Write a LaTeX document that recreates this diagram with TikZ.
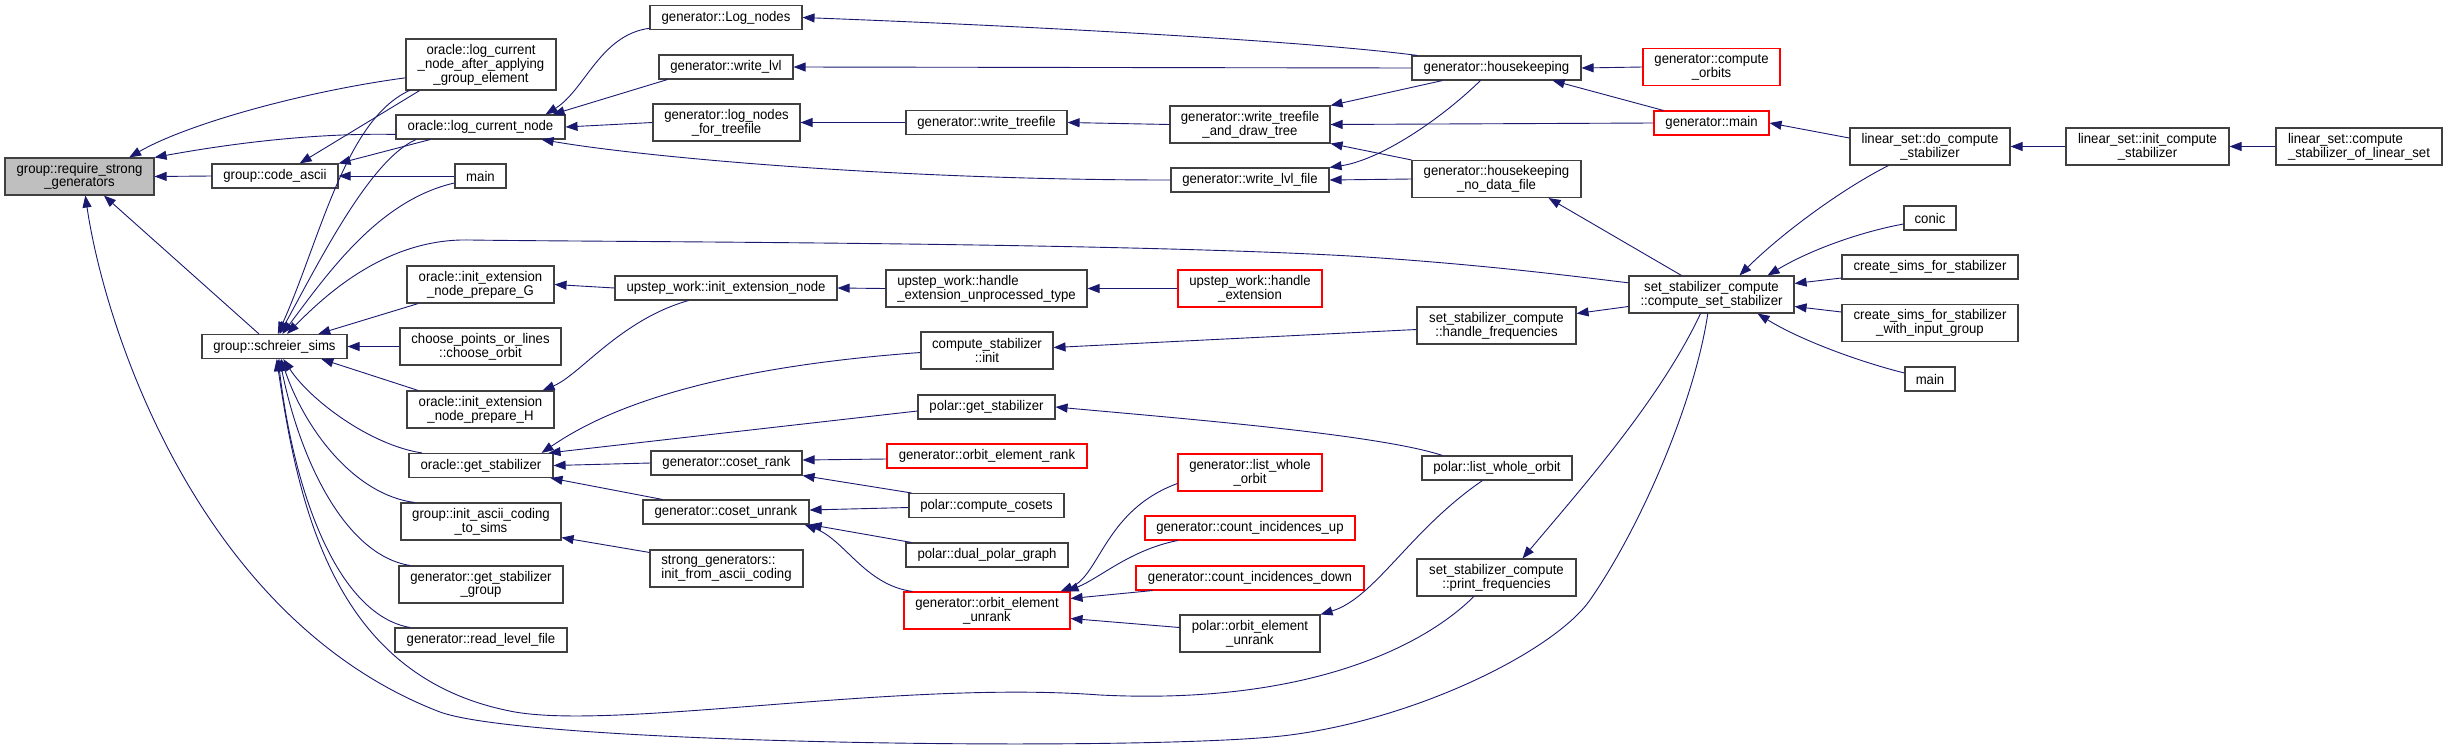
\documentclass[tikz,border=0pt]{standalone}
\usepackage{fontspec}
\setmainfont{Liberation Sans}[FakeStretch=0.94]
\usepackage{tikz}
\usetikzlibrary{arrows.meta}
\definecolor{edgeblue}{HTML}{191970}
\definecolor{boxgray}{HTML}{BFBFBF}
\tikzset{
  fn/.style={draw=black!75, line width=1.1pt, fill=white, minimum height=24pt, inner xsep=3pt, inner ysep=2pt, align=center, font=\fontsize{14pt}{12.7pt}\selectfont},
  fnred/.style={fn, draw=red},
  two/.style={minimum height=37pt},
  call/.style={<-, draw=edgeblue, line width=0.9pt}
}

\begin{document}
\begin{tikzpicture}[x=1pt, y=-1pt, >={Triangle[length=12pt,width=9pt]}]
	\useasboundingbox (0,0) rectangle (2447,747);
	\node[fn, fill=boxgray, two, minimum width=149pt] (rsg) at (79.5,176.5) {group::require\_strong\\\_generators};
	\node[fn, minimum width=150pt, minimum height=51pt] (lcnaa) at (481,64.5) {oracle::log\_current\\\_node\_after\_applying\\\_group\_element};
	\node[fn, minimum width=169pt] (lcn) at (480.5,127) {oracle::log\_current\_node};
	\node[fn, minimum width=126pt] (codeascii) at (275,176) {group::code\_ascii};
	\node[fn, minimum width=51pt] (mainA) at (480.5,176) {main};
	\node[fn, two, minimum width=147pt] (prepG) at (480.5,284.5) {oracle::init\_extension\\\_node\_prepare\_G};
	\node[fn, minimum width=145pt] (sims) at (274.5,346.5) {group::schreier\_sims};
	\node[fn, two, minimum width=161pt] (chooseorbit) at (480.5,346.5) {choose\_points\_or\_lines\\::choose\_orbit};
	\node[fn, two, minimum width=147pt] (prepH) at (480.5,409.5) {oracle::init\_extension\\\_node\_prepare\_H};
	\node[fn, minimum width=144pt] (ogetstab) at (481,465.5) {oracle::get\_stabilizer};
	\node[fn, two, minimum width=160pt] (initascii) at (481,521.5) {group::init\_ascii\_coding\\\_to\_sims};
	\node[fn, two, minimum width=164pt] (getstabgroup) at (481,584.5) {generator::get\_stabilizer\\\_group};
	\node[fn, minimum width=172pt] (readlevel) at (481,640) {generator::read\_level\_file};

	\node[fn, minimum width=152pt] (lognodes) at (726,17.5) {generator::Log\_nodes};
	\node[fn, minimum width=134pt] (writelvl) at (726,67) {generator::write\_lvl};
	\node[fn, two, minimum width=147pt] (lntree) at (726.5,122.5) {generator::log\_nodes\\\_for\_treefile};
	\node[fn, minimum width=222pt] (uwinit) at (726,288) {upstep\_work::init\_extension\_node};
	\node[fn, minimum width=151pt] (cosetrank) at (726.5,463) {generator::coset\_rank};
	\node[fn, minimum width=166pt] (cosetunrank) at (726,512) {generator::coset\_unrank};
	\node[fn, two, align=left, minimum width=153pt] (sgascii) at (726.5,568.5) {strong\_generators::\\init\_from\_ascii\_coding};

	\node[fn, minimum width=161pt] (writetree) at (986.5,122.5) {generator::write\_treefile};
	\node[fn, two, align=left, minimum width=201pt] (uwunproc) at (986.5,288.5) {upstep\_work::handle\\\_extension\_unprocessed\_type};
	\node[fn, two, minimum width=132pt] (csinit) at (987,350.5) {compute\_stabilizer\\::init};
	\node[fn, minimum width=137pt] (pgetstab) at (986.5,407) {polar::get\_stabilizer};
	\node[fnred, minimum width=200pt] (oerank) at (987,456) {generator::orbit\_element\_rank};
	\node[fn, minimum width=155pt] (computecosets) at (986.5,505.5) {polar::compute\_cosets};
	\node[fn, minimum width=162pt] (dualpolar) at (987,555) {polar::dual\_polar\_graph};
	\node[fnred, two, minimum width=166pt] (oeunrank) at (987,610.5) {generator::orbit\_element\\\_unrank};

	\node[fn, two, minimum width=160pt] (wtdraw) at (1250,124.5) {generator::write\_treefile\\\_and\_draw\_tree};
	\node[fn, minimum width=158pt] (writelvlfile) at (1250,180) {generator::write\_lvl\_file};
	\node[fnred, two, minimum width=144pt] (uwhandle) at (1250,288.5) {upstep\_work::handle\\\_extension};
	\node[fnred, two, minimum width=144pt] (listwhole) at (1250,472.5) {generator::list\_whole\\\_orbit};
	\node[fnred, minimum width=210pt] (ciup) at (1250,528) {generator::count\_incidences\_up};
	\node[fnred, minimum width=228pt] (cidown) at (1250,578) {generator::count\_incidences\_down};
	\node[fn, two, minimum width=140pt] (poeunrank) at (1250,633.5) {polar::orbit\_element\\\_unrank};

	\node[fn, minimum width=169pt] (housekeeping) at (1496.5,68) {generator::housekeeping};
	\node[fn, two, minimum width=169pt] (hknodata) at (1496.5,179) {generator::housekeeping\\\_no\_data\_file};
	\node[fn, two, minimum width=159pt] (handlefreq) at (1496.5,325.5) {set\_stabilizer\_compute\\::handle\_frequencies};
	\node[fn, minimum width=150pt] (plistwhole) at (1497,468) {polar::list\_whole\_orbit};
	\node[fn, two, minimum width=159pt] (printfreq) at (1496.5,577.5) {set\_stabilizer\_compute\\::print\_frequencies};

	\node[fnred, two, minimum width=137pt] (computeorbits) at (1711.5,67) {generator::compute\\\_orbits};
	\node[fnred, minimum width=115pt] (genmain) at (1711.5,123) {generator::main};
	\node[fn, two, minimum width=165pt] (css) at (1711.5,294.5) {set\_stabilizer\_compute\\::compute\_set\_stabilizer};

	\node[fn, two, minimum width=160pt] (docompute) at (1930,146.5) {linear\_set::do\_compute\\\_stabilizer};
	\node[fn, minimum width=52pt] (conic) at (1930,218) {conic};
	\node[fn, minimum width=176pt] (csfs) at (1930,267) {create\_sims\_for\_stabilizer};
	\node[fn, two, minimum width=176pt] (csfswig) at (1930,323) {create\_sims\_for\_stabilizer\\\_with\_input\_group};
	\node[fn, minimum width=50pt] (mainB) at (1930,379) {main};
	\node[fn, two, minimum width=163pt] (initcompute) at (2147.5,146.5) {linear\_set::init\_compute\\\_stabilizer};
	\node[fn, two, align=left, minimum width=166pt] (computeoflinear) at (2359,146.5) {linear\_set::compute\\\_stabilizer\_of\_linear\_set};

	\draw[call] (rsg.21) .. controls (185,125) and (300,92) .. (lcnaa.190);
	\draw[call] (rsg.north east) .. controls (250,140) and (330,133) .. (lcn.185);
	\draw[call] (rsg.east) -- (codeascii.west);
	\draw[call] (rsg.322) -- (sims.141);
	\draw[call] (rsg.287) .. controls (105,330) and (200,620) .. (440,712) .. controls (530,745) and (1160,752) .. (1290,735) .. controls (1420,718) and (1555,650) .. (1590,600) .. controls (1642,525) and (1695,400) .. (css.259);
	\draw[call] (codeascii.27) -- (lcnaa.203);
	\draw[call] (codeascii.north east) -- (lcn.194);
	\draw[call] (codeascii.east) -- (mainA.west);
	\draw[call] (sims.75) .. controls (320,240) and (345,120) .. (lcnaa.200);
	\draw[call] (sims.68) .. controls (320,260) and (370,160) .. (lcn.191);
	\draw[call] (sims.58) .. controls (330,270) and (380,200) .. (mainA.195);
	\draw[call] (sims.45) .. controls (330,290) and (390,238) .. (470,240) .. controls (600,242) and (1100,242) .. (1350,256) .. controls (1480,264) and (1580,277) .. (css.172);
	\draw[call] (sims.16) -- (prepG.197);
	\draw[call] (sims.east) -- (chooseorbit.west);
	\draw[call] (sims.345) -- (prepH.163);
	\draw[call] (sims.-55) .. controls (310,400) and (370,445) .. (ogetstab.168);
	\draw[call] (sims.-62) .. controls (305,430) and (355,495) .. (initascii.164);
	\draw[call] (sims.-68) .. controls (300,460) and (345,555) .. (getstabgroup.165);
	\draw[call] (sims.-74) .. controls (295,500) and (340,615) .. (readlevel.170);
	\draw[call] (sims.-80) .. controls (300,520) and (340,680) .. (515,712) .. controls (620,730) and (900,680) .. (1100,695) .. controls (1300,705) and (1420,650) .. (printfreq.220);

	\draw[call] ([xshift=-20pt]lcn.north east) .. controls (585,90) and (600,35) .. (lognodes.188);
	\draw[call] ([xshift=-13pt]lcn.north east) -- ([xshift=9pt]writelvl.south west);
	\draw[call] (lcn.east) -- (lntree.west);
	\draw[call] ([xshift=-24pt]lcn.south east) .. controls (650,158) and (900,180) .. (writelvlfile.west);
	\draw[call] (lognodes.east) .. controls (1000,25) and (1300,40) .. ([xshift=6pt]housekeeping.north west);
	\draw[call] (writelvl.east) -- (housekeeping.west);
	\draw[call] (lntree.east) -- (writetree.west);
	\draw[call] (writetree.east) -- (wtdraw.west);
	\draw[call] (wtdraw.north east) -- ([xshift=31pt]housekeeping.south west);
	\draw[call] (wtdraw.east) -- (genmain.west);
	\draw[call] (wtdraw.south east) -- (hknodata.north west);
	\draw[call] (writelvlfile.north east) .. controls (1380,160) and (1440,120) .. ([xshift=69pt]housekeeping.south west);
	\draw[call] (writelvlfile.east) -- (hknodata.west);
	\draw[call] (housekeeping.east) -- (computeorbits.west);
	\draw[call] ([xshift=-29pt]housekeeping.south east) -- ([xshift=10pt]genmain.north west);
	\draw[call] (genmain.east) -- (docompute.174);
	\draw[call] (docompute.east) -- (initcompute.west);
	\draw[call] (initcompute.east) -- (computeoflinear.west);
	\draw[call] ([xshift=-33pt]hknodata.south east) -- ([xshift=53pt]css.north west);
	\draw[call] ([xshift=111pt]css.north west) .. controls (1780,235) and (1840,190) .. ([xshift=39pt]docompute.south west);
	\draw[call] ([xshift=-27pt]css.north east) .. controls (1810,250) and (1860,232) .. ([yshift=-6pt]conic.west);
	\draw[call] ([yshift=11pt]css.east) -- ([yshift=-11pt]csfs.west);
	\draw[call] ([yshift=-12pt]css.east) -- ([yshift=11pt]csfswig.west);
	\draw[call] ([xshift=-37pt]css.south east) .. controls (1800,340) and (1860,362) .. ([yshift=6pt]mainB.west);
	\draw[call] ([yshift=12pt]handlefreq.east) -- ([yshift=-12pt]css.west);
	\draw[call] ([xshift=26pt]printfreq.north) .. controls (1580,490) and (1660,400) .. ([xshift=-11pt]css.south);
	\draw[call] ([yshift=3pt]csinit.east) -- ([yshift=-4pt]handlefreq.west);

	\draw[call] (prepG.east) -- (uwinit.west);
	\draw[call] ([xshift=-12pt]prepH.north east) .. controls (580,375) and (620,320) .. ([xshift=74pt]uwinit.south west);
	\draw[call] (uwinit.east) -- (uwunproc.west);
	\draw[call] (uwunproc.east) -- (uwhandle.west);
	\draw[call] ([xshift=-12pt]ogetstab.north east) .. controls (590,420) and (680,370) .. ([yshift=-2pt]csinit.west);
	\draw[call] ([xshift=-5pt]ogetstab.north east) -- ([yshift=-4pt]pgetstab.west);
	\draw[call] (ogetstab.east) -- (cosetrank.west);
	\draw[call] ([xshift=-3pt]ogetstab.south east) -- ([xshift=20pt]cosetunrank.north west);
	\draw[call] (pgetstab.east) .. controls (1200,420) and (1380,435) .. ([xshift=21pt]plistwhole.north west);
	\draw[call] ([yshift=3pt]cosetrank.east) -- ([yshift=-3pt]oerank.west);
	\draw[call] (cosetrank.south east) -- ([xshift=3pt]computecosets.north west);
	\draw[call] ([yshift=2pt]cosetunrank.east) -- ([yshift=-2pt]computecosets.west);
	\draw[call] (cosetunrank.south east) -- ([xshift=6pt]dualpolar.north west);
	\draw[call] ([xshift=-5pt]cosetunrank.south east) .. controls (845,540) and (865,585) .. ([xshift=9pt]oeunrank.north west);
	\draw[call] ([yshift=3pt]initascii.south east) -- ([yshift=-3pt]sgascii.north west);
	\draw[call] ([xshift=-10pt]oeunrank.north east) .. controls (1100,575) and (1105,510) .. ([yshift=-11pt]listwhole.west);
	\draw[call] ([xshift=-4pt]oeunrank.north east) .. controls (1100,578) and (1130,550) .. ([xshift=33pt]ciup.south west);
	\draw[call] ([yshift=12pt]oeunrank.east) -- ([xshift=17pt]cidown.south west);
	\draw[call] ([yshift=-8pt]oeunrank.east) -- ([yshift=6pt]poeunrank.west);
	\draw[call] (poeunrank.north east) .. controls (1375,598) and (1410,530) .. ([xshift=61pt]plistwhole.south west);
\end{tikzpicture}
\end{document}
